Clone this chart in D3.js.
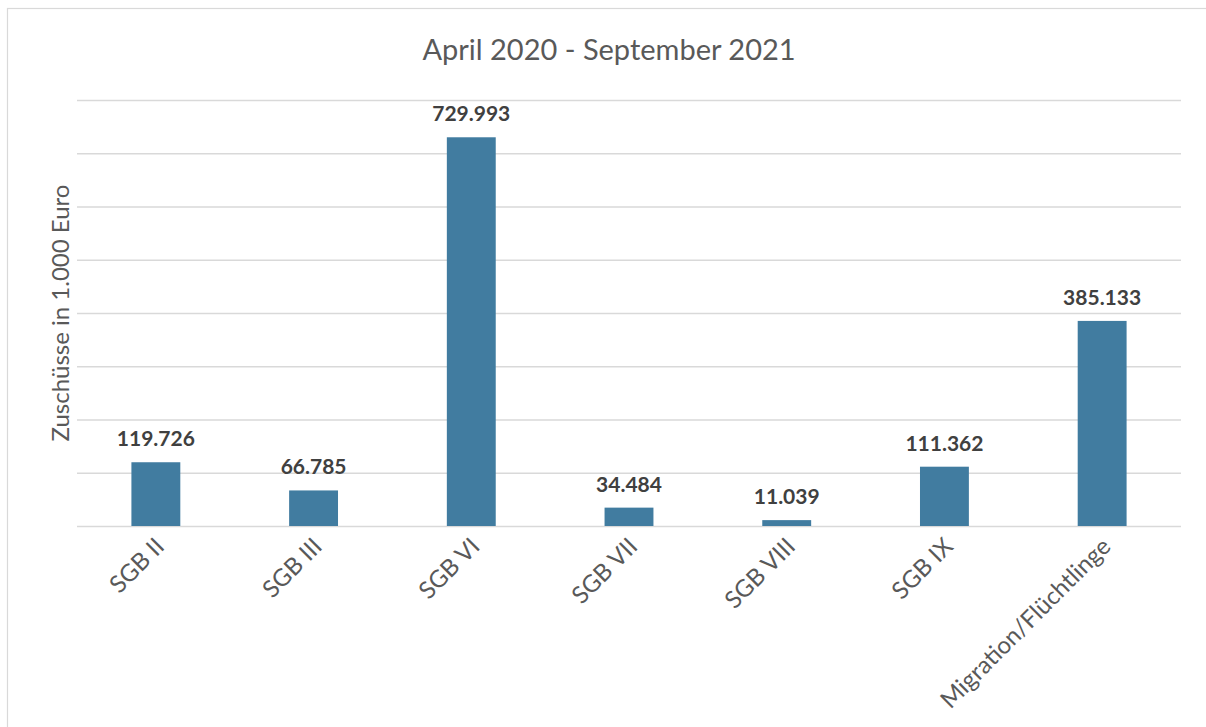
<!DOCTYPE html>
<html>
<head>
<meta charset="utf-8">
<script src="https://cdn.jsdelivr.net/npm/d3@7"></script>
<style>
  body { margin: 0; background: #fff; }
  svg text { font-family: Lato, "Open Sans", sans-serif; }
</style>
</head>
<body>
<div id="app"></div>
<script>
// chart data
const categories = ['SGB II', 'SGB III', 'SGB VI', 'SGB VII', 'SGB VIII', 'SGB IX', 'Migration/Flüchtlinge'];
const values = [119.726, 66.785, 729.993, 34.484, 11.039, 111.362, 385.133];
const valueLabels = ['119.726', '66.785', '729.993', '34.484', '11.039', '111.362', '385.133'];
const gridTicks = [0, 100, 200, 300, 400, 500, 600, 700, 800];

const width = 1206;
const height = 727;
const margin = { top: 100, right: 25, bottom: 201, left: 77 };

const svg = d3.select('#app')
  .append('svg')
  .attr('width', width)
  .attr('height', height);

// outer chart frame
svg.append('rect')
  .attr('x', 7.5)
  .attr('y', 8.5)
  .attr('width', width)
  .attr('height', height)
  .attr('fill', 'none')
  .attr('stroke', '#d9d9d9')
  .attr('stroke-width', 1.2);

const x = d3.scaleBand()
  .domain(categories)
  .range([margin.left, width - margin.right])
  .paddingInner(0.69)
  .paddingOuter(0.345);

const y = d3.scaleLinear()
  .domain([0, 800])
  .range([height - margin.bottom, margin.top]);

// gridlines
svg.append('g')
  .attr('transform', `translate(${margin.left},0)`)
  .call(d3.axisLeft(y).tickValues(gridTicks).tickSize(-(width - margin.left - margin.right)).tickFormat(''))
  .call((g) => g.select('.domain').remove())
  .call((g) => g.selectAll('.tick line').attr('stroke', '#d9d9d9').attr('stroke-width', 1.5));

// bars
svg.selectAll('.bar')
  .data(values)
  .enter()
  .append('rect')
  .attr('class', 'bar')
  .attr('x', (d, i) => x(categories[i]))
  .attr('y', (d) => y(d))
  .attr('width', x.bandwidth())
  .attr('height', (d) => y(0) - y(d))
  .attr('fill', '#417ca0');

// value labels
svg.selectAll('.val')
  .data(values)
  .enter()
  .append('text')
  .attr('class', 'val')
  .attr('x', (d, i) => x(categories[i]) + x.bandwidth() / 2)
  .attr('y', (d) => y(d) - 16)
  .attr('text-anchor', 'middle')
  .attr('font-size', 21)
  .attr('font-weight', 'bold')
  .attr('fill', '#404040')
  .text((d, i) => valueLabels[i]);

// category axis
const xAxis = svg.append('g')
  .attr('transform', `translate(0,${y(0)})`)
  .call(d3.axisBottom(x).tickSize(0).tickPadding(0));
xAxis.select('.domain').remove();
xAxis.selectAll('text')
  .attr('font-size', 24)
  .attr('fill', '#595959')
  .attr('text-anchor', 'end')
  .attr('dy', null)
  .attr('transform', 'translate(10,22) rotate(-45)');

// title
svg.append('text')
  .attr('x', 609)
  .attr('y', 60)
  .attr('text-anchor', 'middle')
  .attr('font-size', 29)
  .attr('fill', '#595959')
  .text('April 2020 - September 2021');

// y axis title
svg.append('text')
  .attr('transform', `translate(69,${(y(0) + y(800)) / 2}) rotate(-90)`)
  .attr('text-anchor', 'middle')
  .attr('font-size', 24)
  .attr('fill', '#595959')
  .text('Zuschüsse in 1.000 Euro');
</script>
</body>
</html>
